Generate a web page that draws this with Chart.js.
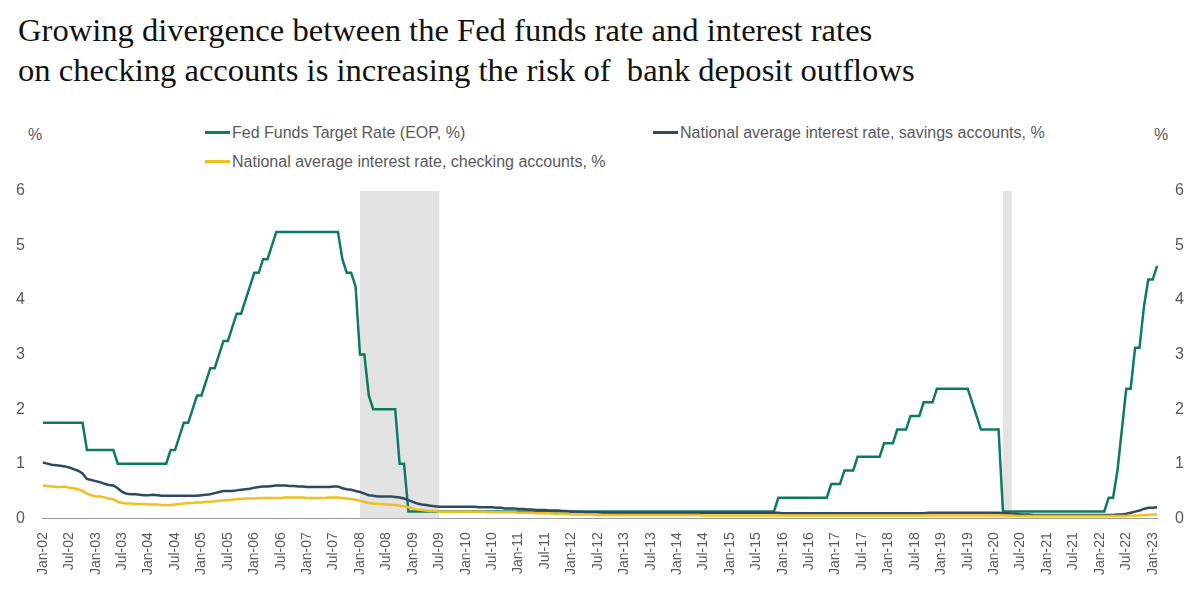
<!DOCTYPE html>
<html>
<head>
<meta charset="utf-8">
<script src="https://cdn.jsdelivr.net/npm/chart.js@4.4.0/dist/chart.umd.min.js"></script>
<style>
  body { margin:0; background:#fff; width:1200px; height:603px; position:relative; overflow:hidden; }
  #title { position:absolute; left:18px; top:10px; font-family:"Liberation Serif","DejaVu Serif",serif; font-size:32.6px; line-height:40px; color:#111; }
  .lg { position:absolute; font-family:"Liberation Sans",sans-serif; font-size:16px; color:#595959; white-space:nowrap; }
  .lg span { display:inline-block; width:25px; height:3px; vertical-align:middle; margin-right:2px; position:relative; top:-1px; }
  .pct { position:absolute; font-family:"Liberation Sans",sans-serif; font-size:16px; color:#595959; top:126px; }
  #wrap { position:absolute; left:0; top:0; width:1200px; height:603px; }
</style>
</head>
<body>
<div id="title">Growing divergence between the Fed funds rate and interest rates<br>on checking accounts is increasing the risk of&nbsp; bank deposit outflows</div>
<div class="lg" style="left:205px;top:124px"><span style="background:#0e7a5f"></span>Fed Funds Target Rate (EOP, %)</div>
<div class="lg" style="left:205px;top:153px"><span style="background:#f0c020"></span>National average interest rate, checking accounts, %</div>
<div class="lg" style="left:653px;top:124px"><span style="background:#2e4a62"></span>National average interest rate, savings accounts, %</div>
<div class="pct" style="left:28px">%</div>
<div class="pct" style="left:1154px">%</div>
<div id="wrap"><canvas id="grafico" width="1200" height="603"></canvas></div>
<script>
var meses = ["Jan","Feb","Mar","Apr","May","Jun","Jul","Aug","Sep","Oct","Nov","Dec"];
var anos = ["02","03","04","05","06","07","08","09","10","11","12","13","14","15","16","17","18","19","20","21","22","23"];

var fedfunds = [
  1.75,1.75,1.75,1.75,1.75,1.75,1.75,1.75,1.75,1.75,1.25,1.25,
  1.25,1.25,1.25,1.25,1.25,1,1,1,1,1,1,1,
  1,1,1,1,1,1.25,1.25,1.5,1.75,1.75,2,2.25,
  2.25,2.5,2.75,2.75,3,3.25,3.25,3.5,3.75,3.75,4,4.25,
  4.5,4.5,4.75,4.75,5,5.25,5.25,5.25,5.25,5.25,5.25,5.25,
  5.25,5.25,5.25,5.25,5.25,5.25,5.25,5.25,4.75,4.5,4.5,4.25,
  3,3,2.25,2,2,2,2,2,2,1,1,0.125,
  0.125,0.125,0.125,0.125,0.125,0.125,0.125,0.125,0.125,0.125,0.125,0.125,
  0.125,0.125,0.125,0.125,0.125,0.125,0.125,0.125,0.125,0.125,0.125,0.125,
  0.125,0.125,0.125,0.125,0.125,0.125,0.125,0.125,0.125,0.125,0.125,0.125,
  0.125,0.125,0.125,0.125,0.125,0.125,0.125,0.125,0.125,0.125,0.125,0.125,
  0.125,0.125,0.125,0.125,0.125,0.125,0.125,0.125,0.125,0.125,0.125,0.125,
  0.125,0.125,0.125,0.125,0.125,0.125,0.125,0.125,0.125,0.125,0.125,0.125,
  0.125,0.125,0.125,0.125,0.125,0.125,0.125,0.125,0.125,0.125,0.125,0.375,
  0.375,0.375,0.375,0.375,0.375,0.375,0.375,0.375,0.375,0.375,0.375,0.625,
  0.625,0.625,0.875,0.875,0.875,1.125,1.125,1.125,1.125,1.125,1.125,1.375,
  1.375,1.375,1.625,1.625,1.625,1.875,1.875,1.875,2.125,2.125,2.125,2.375,
  2.375,2.375,2.375,2.375,2.375,2.375,2.375,2.125,1.875,1.625,1.625,1.625,
  1.625,1.625,0.125,0.125,0.125,0.125,0.125,0.125,0.125,0.125,0.125,0.125,
  0.125,0.125,0.125,0.125,0.125,0.125,0.125,0.125,0.125,0.125,0.125,0.125,
  0.125,0.125,0.375,0.375,0.875,1.625,2.375,2.375,3.125,3.125,3.875,4.375,
  4.375,4.625
];

var poupanca = [
  1.02,1.0,0.98,0.97,0.96,0.95,0.93,0.9,0.87,0.82,0.72,0.7,
  0.68,0.66,0.63,0.61,0.6,0.55,0.48,0.45,0.44,0.44,0.43,0.42,
  0.42,0.43,0.42,0.41,0.41,0.41,0.41,0.41,0.41,0.41,0.41,0.41,
  0.42,0.43,0.44,0.46,0.48,0.5,0.5,0.5,0.51,0.52,0.53,0.54,
  0.56,0.57,0.58,0.58,0.59,0.6,0.6,0.6,0.59,0.59,0.58,0.58,
  0.57,0.57,0.57,0.57,0.57,0.57,0.58,0.58,0.55,0.53,0.52,0.5,
  0.48,0.45,0.42,0.41,0.4,0.4,0.4,0.4,0.39,0.38,0.36,0.33,
  0.3,0.27,0.25,0.24,0.23,0.22,0.21,0.21,0.21,0.21,0.21,0.21,
  0.21,0.21,0.21,0.2,0.2,0.2,0.2,0.19,0.19,0.18,0.18,0.18,
  0.17,0.17,0.16,0.16,0.15,0.15,0.15,0.14,0.14,0.14,0.13,0.13,
  0.12,0.12,0.12,0.11,0.11,0.11,0.11,0.1,0.1,0.1,0.1,0.1,
  0.1,0.1,0.1,0.1,0.1,0.1,0.1,0.1,0.1,0.1,0.1,0.1,
  0.1,0.1,0.1,0.1,0.1,0.1,0.1,0.1,0.1,0.1,0.1,0.1,
  0.1,0.1,0.1,0.1,0.1,0.1,0.1,0.1,0.1,0.1,0.1,0.1,
  0.09,0.09,0.09,0.09,0.09,0.09,0.09,0.09,0.09,0.09,0.09,0.09,
  0.09,0.09,0.09,0.09,0.09,0.09,0.09,0.09,0.09,0.09,0.09,0.09,
  0.09,0.09,0.09,0.09,0.09,0.09,0.09,0.09,0.09,0.1,0.1,0.1,
  0.1,0.1,0.1,0.1,0.1,0.1,0.1,0.1,0.1,0.1,0.1,0.1,
  0.1,0.1,0.09,0.09,0.08,0.08,0.07,0.07,0.07,0.06,0.06,0.06,
  0.06,0.06,0.06,0.06,0.06,0.06,0.06,0.06,0.06,0.06,0.06,0.06,
  0.06,0.06,0.06,0.06,0.07,0.07,0.08,0.1,0.12,0.14,0.17,0.19,
  0.19,0.2
];

var corrente = [
  0.6,0.59,0.58,0.57,0.57,0.58,0.56,0.55,0.53,0.5,0.45,0.42,
  0.4,0.4,0.38,0.36,0.35,0.3,0.28,0.27,0.27,0.26,0.26,0.26,
  0.25,0.25,0.25,0.24,0.24,0.24,0.25,0.26,0.27,0.28,0.28,0.29,
  0.29,0.3,0.3,0.31,0.32,0.33,0.33,0.34,0.35,0.35,0.36,0.36,
  0.36,0.37,0.37,0.37,0.37,0.37,0.37,0.38,0.38,0.38,0.38,0.38,
  0.37,0.37,0.37,0.37,0.37,0.38,0.38,0.38,0.37,0.36,0.35,0.34,
  0.32,0.3,0.28,0.27,0.26,0.26,0.25,0.25,0.24,0.23,0.22,0.2,
  0.18,0.16,0.15,0.14,0.13,0.13,0.12,0.12,0.12,0.12,0.12,0.12,
  0.12,0.12,0.12,0.12,0.12,0.11,0.11,0.11,0.11,0.11,0.11,0.11,
  0.1,0.1,0.1,0.1,0.09,0.09,0.09,0.09,0.08,0.08,0.08,0.08,
  0.07,0.07,0.07,0.07,0.07,0.07,0.06,0.06,0.06,0.06,0.06,0.06,
  0.06,0.06,0.06,0.06,0.06,0.06,0.06,0.06,0.06,0.06,0.06,0.06,
  0.06,0.06,0.06,0.06,0.06,0.06,0.05,0.05,0.05,0.05,0.05,0.05,
  0.05,0.05,0.05,0.05,0.05,0.05,0.05,0.05,0.05,0.05,0.05,0.05,
  0.05,0.05,0.05,0.05,0.05,0.05,0.05,0.05,0.05,0.05,0.05,0.05,
  0.05,0.05,0.05,0.05,0.05,0.05,0.05,0.05,0.05,0.05,0.05,0.05,
  0.05,0.05,0.05,0.05,0.05,0.05,0.05,0.05,0.05,0.05,0.05,0.05,
  0.05,0.05,0.05,0.05,0.05,0.05,0.05,0.05,0.05,0.05,0.05,0.05,
  0.05,0.05,0.05,0.05,0.05,0.04,0.04,0.04,0.04,0.04,0.04,0.04,
  0.04,0.04,0.04,0.04,0.04,0.04,0.04,0.04,0.04,0.04,0.04,0.04,
  0.04,0.04,0.04,0.04,0.04,0.04,0.04,0.05,0.05,0.05,0.06,0.06,
  0.07,0.07
];

// recessoes: indice do mes inicial e final
var recessoes = [[72, 90], [218, 220]];

var labels = [];
anos.forEach(function(a){
  meses.forEach(function(m){ labels.push(m + "-" + a); });
});
labels = labels.slice(0, fedfunds.length);

var sombra = {
  id: 'sombra',
  beforeDatasetsDraw: function(chart) {
    var ctx = chart.ctx, x = chart.scales.x, y = chart.scales.y;
    ctx.save();
    ctx.fillStyle = "#e3e3e3";
    recessoes.forEach(function(r){
      var x1 = x.getPixelForValue(r[0]), x2 = x.getPixelForValue(r[1]);
      ctx.fillRect(x1, y.getPixelForValue(6), x2 - x1, y.getPixelForValue(0) - y.getPixelForValue(6));
    });
    ctx.restore();
  }
};

var fonte = { family: "'Liberation Sans',sans-serif", size: 16 };
var tickX = { family: "'Liberation Sans',sans-serif", size: 14 };

var ctx = document.getElementById("grafico").getContext('2d');
var myChart = new Chart(ctx, {
  type: 'line',
  data: {
    labels: labels,
    datasets: [
      { data: corrente, yAxisID: 'y', borderColor: "#f0c020", borderWidth: 2.5, pointRadius: 0, fill: false },
      { data: poupanca, yAxisID: 'y', borderColor: "#2e4a62", borderWidth: 2.5, pointRadius: 0, fill: false },
      { data: fedfunds, yAxisID: 'y', borderColor: "#0e7a5f", borderWidth: 2.5, pointRadius: 0, fill: false }
    ]
  },
  plugins: [sombra],
  options: {
    responsive: false,
    animation: false,
    layout: { padding: { top: 191, left: 6, right: 6, bottom: 22 } },
    plugins: { legend: { display: false }, tooltip: { enabled: false } },
    scales: {
      x: {
        offset: false,
        grid: { display: false },
        border: { color: "#999" },
        ticks: {
          autoSkip: false, maxRotation: 90, minRotation: 90, color: "#595959", font: tickX, padding: 6,
          callback: function(v, i) { return i % 6 === 0 ? labels[i] : null; }
        }
      },
      y: {
        min: 0, max: 6,
        grid: { display: false },
        border: { display: false },
        ticks: { stepSize: 1, color: "#595959", font: fonte, padding: 10 }
      },
      y2: {
        position: 'right', min: 0, max: 6,
        grid: { display: false },
        border: { display: false },
        ticks: { stepSize: 1, color: "#595959", font: fonte, padding: 10 }
      }
    }
  }
});
</script>
</body>
</html>
